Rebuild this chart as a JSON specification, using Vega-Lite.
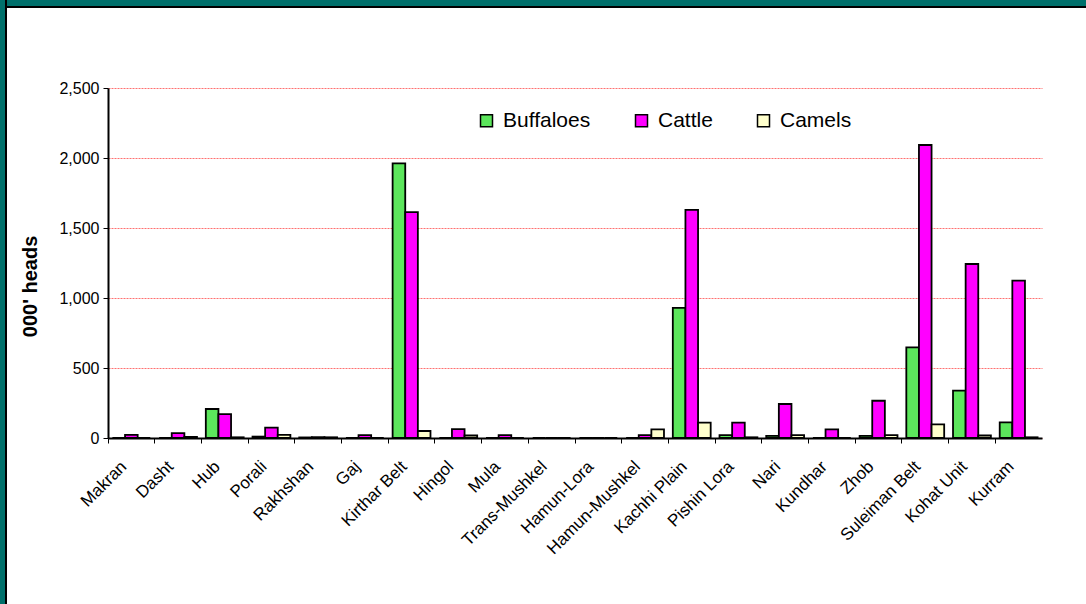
{
  "$schema": "https://vega.github.io/schema/vega-lite/v6.json",
  "width": 934,
  "height": 350,
  "autosize": {"type": "none"},
  "padding": {"left": 108, "top": 88, "right": 44, "bottom": 166},
  "background": "white",
  "config": {"view": {"stroke": null}, "font": "Liberation Sans"},
  "datasets": {
    "livestock": [
      {"region": "Makran", "Buffaloes": 0, "Cattle": 22, "Camels": 0},
      {"region": "Dasht", "Buffaloes": 0, "Cattle": 35, "Camels": 8},
      {"region": "Hub", "Buffaloes": 207, "Cattle": 171, "Camels": 5},
      {"region": "Porali", "Buffaloes": 10, "Cattle": 74, "Camels": 22},
      {"region": "Rakhshan", "Buffaloes": 4, "Cattle": 6, "Camels": 5},
      {"region": "Gaj", "Buffaloes": 0, "Cattle": 20, "Camels": 0},
      {"region": "Kirthar Belt", "Buffaloes": 1962, "Cattle": 1614, "Camels": 50},
      {"region": "Hingol", "Buffaloes": 0, "Cattle": 64, "Camels": 18},
      {"region": "Mula", "Buffaloes": 0, "Cattle": 20, "Camels": 0},
      {"region": "Trans-Mushkel", "Buffaloes": 0, "Cattle": 0, "Camels": 0},
      {"region": "Hamun-Lora", "Buffaloes": 0, "Cattle": 0, "Camels": 0},
      {"region": "Hamun-Mushkel", "Buffaloes": 0, "Cattle": 20, "Camels": 62},
      {"region": "Kachhi Plain", "Buffaloes": 929, "Cattle": 1629, "Camels": 110},
      {"region": "Pishin Lora", "Buffaloes": 20, "Cattle": 110, "Camels": 5},
      {"region": "Nari", "Buffaloes": 15, "Cattle": 243, "Camels": 20},
      {"region": "Kundhar", "Buffaloes": 0, "Cattle": 62, "Camels": 0},
      {"region": "Zhob", "Buffaloes": 15, "Cattle": 266, "Camels": 20},
      {"region": "Suleiman Belt", "Buffaloes": 648, "Cattle": 2093, "Camels": 98},
      {"region": "Kohat Unit", "Buffaloes": 338, "Cattle": 1243, "Camels": 18},
      {"region": "Kurram", "Buffaloes": 112, "Cattle": 1124, "Camels": 5}
    ]
  },
  "resolve": {"scale": {"x": "independent", "y": "independent"}},
  "layer": [
    {
      "data": {"name": "livestock"},
      "transform": [{"fold": ["Buffaloes", "Cattle", "Camels"], "as": ["species", "heads"]}],
      "mark": {"type": "bar", "stroke": "black", "strokeWidth": 1.8},
      "encoding": {
        "x": {
          "field": "region", "type": "nominal", "sort": null,
          "scale": {"paddingInner": 0, "paddingOuter": 0},
          "axis": {
            "title": null, "bandPosition": 0, "labelOffset": -13, "labelAngle": -45,
            "labelAlign": "right", "labelBaseline": "top",
            "labelFontSize": 17, "labelColor": "black", "labelPadding": 15,
            "tickColor": "black", "tickSize": 5, "domainColor": "black", "domainWidth": 2
          }
        },
        "xOffset": {
          "field": "species", "type": "nominal",
          "sort": ["Buffaloes", "Cattle", "Camels"],
          "scale": {"paddingInner": 0, "paddingOuter": 0.35}
        },
        "y": {
          "field": "heads", "type": "quantitative",
          "scale": {"domain": [0, 2500], "nice": false},
          "axis": {
            "title": "000' heads", "titleFontSize": 20, "titleFontWeight": "bold",
            "titleColor": "black", "titleX": -78, "titleY": 198, "titleBaseline": "middle", "titleAngle": -90,
            "values": [0, 500, 1000, 1500, 2000, 2500], "format": ",d",
            "labelFontSize": 16, "labelColor": "black", "labelPadding": 4,
            "tickColor": "black", "tickSize": 5, "domainColor": "black", "domainWidth": 2,
            "grid": true, "gridColor": "#ff7070", "gridDash": [2, 1], "gridWidth": 1
          }
        },
        "color": {
          "field": "species", "type": "nominal",
          "sort": ["Buffaloes", "Cattle", "Camels"],
          "scale": {"domain": ["Buffaloes", "Cattle", "Camels"], "range": ["#5CE65C", "#FF00FF", "#FFFFCC"]},
          "legend": {
            "title": null, "orient": "none", "legendX": 368, "legendY": 22,
            "direction": "horizontal", "symbolType": "square", "symbolSize": 144,
            "symbolStrokeColor": "black", "symbolStrokeWidth": 1.5,
            "labelFontSize": 21, "labelColor": "black", "labelOffset": 6,
            "columnPadding": 40, "padding": 0
          }
        }
      }
    },
    {
      "data": {"values": [{"part": "left"}]},
      "mark": {"type": "rect", "fill": "#00706B", "stroke": "black", "strokeWidth": 2},
      "encoding": {
        "x": {"datum": -0.14, "type": "quantitative", "scale": {"domain": [0, 1]}, "axis": null},
        "x2": {"datum": -0.1092},
        "y": {"datum": 1.3, "type": "quantitative", "scale": {"domain": [0, 1]}, "axis": null},
        "y2": {"datum": -0.6}
      }
    },
    {
      "data": {"values": [{"part": "top"}]},
      "mark": {"type": "rect", "fill": "#00706B", "stroke": "black", "strokeWidth": 2},
      "encoding": {
        "x": {"datum": -0.1092, "type": "quantitative", "scale": {"domain": [0, 1]}, "axis": null},
        "x2": {"datum": 1.1},
        "y": {"datum": 1.3, "type": "quantitative", "scale": {"domain": [0, 1]}, "axis": null},
        "y2": {"datum": 1.2314}
      }
    }
  ]
}
